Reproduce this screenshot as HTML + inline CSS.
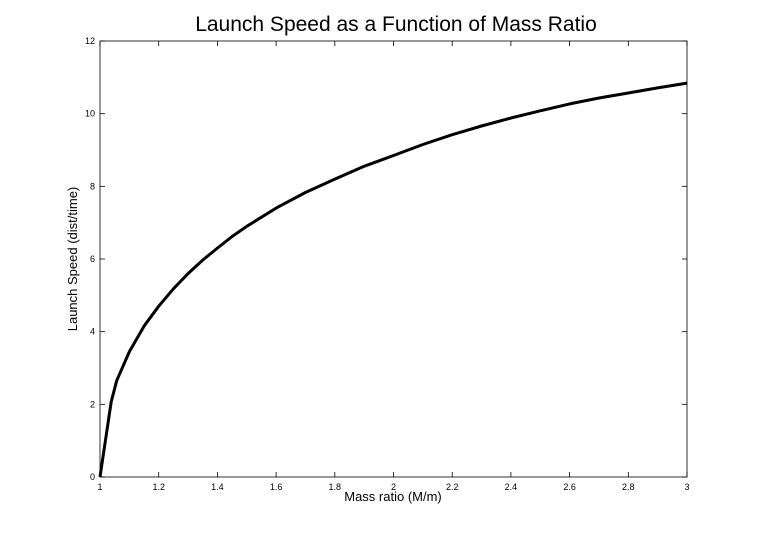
<!DOCTYPE html>
<html><head><meta charset="utf-8"><style>
html,body{margin:0;padding:0;background:#fff;}
svg{display:block;font-family:"Liberation Sans",sans-serif;}
</style></head><body>
<svg id="chart" width="759" height="535" viewBox="0 0 759 535">
<text x="396" y="31" text-anchor="middle" font-size="21">Launch Speed as a Function of Mass Ratio</text>
<rect x="100" y="41" width="587" height="436" fill="none" stroke="#000" stroke-width="0.8"/>
<g id="ticks"></g>
<text x="393" y="501" text-anchor="middle" font-size="13">Mass ratio (M/m)</text>
<text transform="translate(77,259) rotate(-90)" text-anchor="middle" font-size="13">Launch Speed (dist/time)</text>
<path id="curve" fill="none" stroke="#000" stroke-width="3" stroke-linejoin="round"/>
</svg>
<script>
const massRatio=[1,1.038,1.057,1.1,1.15,1.2,1.25,1.3,1.35,1.4,1.45,1.5,1.6,1.7,1.8,1.9,2,2.1,2.2,2.3,2.4,2.5,2.6,2.7,2.8,2.9,3];
const launchSpeed=[0,2.07,2.65,3.45,4.15,4.7,5.18,5.6,5.97,6.3,6.62,6.9,7.4,7.83,8.2,8.55,8.85,9.15,9.42,9.66,9.88,10.08,10.27,10.43,10.57,10.71,10.84];
const xTicks=[1,1.2,1.4,1.6,1.8,2,2.2,2.4,2.6,2.8,3];
const yTicks=[0,2,4,6,8,10,12];
const L=100,R=687,T=41,B=477;
const sx=v=>L+(v-1)/(3-1)*(R-L);
const sy=v=>B-v/12*(B-T);
const NS="http://www.w3.org/2000/svg";
const g=document.getElementById('ticks');
function mk(t,a){const e=document.createElementNS(NS,t);for(const k in a)e.setAttribute(k,a[k]);return e;}
xTicks.forEach(v=>{const x=sx(v);
 let l=mk('line',{x1:x,x2:x,y1:B,y2:B-5,stroke:'#000','stroke-width':0.8});
 
 g.appendChild(l);
 let l2=mk('line',{x1:x,x2:x,y1:T,y2:T+5,stroke:'#000','stroke-width':0.8});
 
 g.appendChild(l2);
 let t=mk('text',{x:x,y:B+13,'text-anchor':'middle','font-size':9});t.textContent=String(v);
 
 g.appendChild(t);});
yTicks.forEach(v=>{const y=sy(v);
 let l=mk('line',{x1:L,x2:L+5,y1:y,y2:y,stroke:'#000','stroke-width':0.8});
 
 g.appendChild(l);
 let l2=mk('line',{x1:R,x2:R-5,y1:y,y2:y,stroke:'#000','stroke-width':0.8});
 
 g.appendChild(l2);
 let t=mk('text',{x:L-5,y:y+3,'text-anchor':'end','font-size':9});t.textContent=String(v);
 
 g.appendChild(t);});
document.getElementById('curve').setAttribute('d',massRatio.map((m,i)=>(i?'L':'M')+sx(m).toFixed(1)+' '+sy(launchSpeed[i]).toFixed(1)).join(' '));
</script>
</body></html>
